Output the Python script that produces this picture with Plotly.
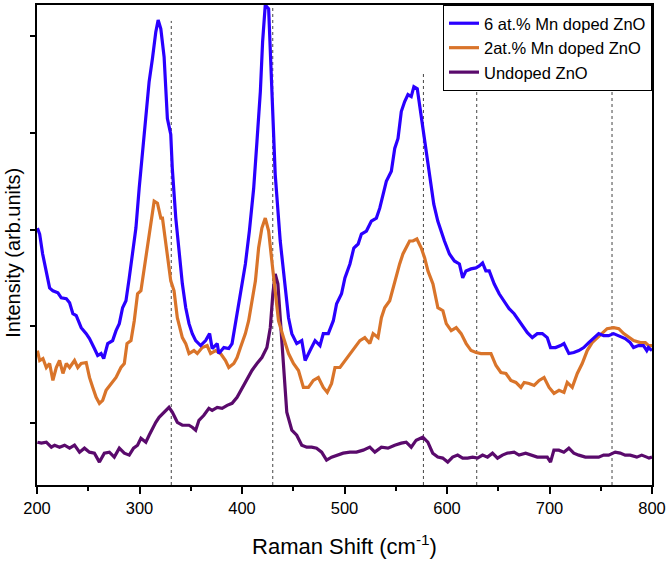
import plotly.graph_objects as go

# ---- data (Raman shift in cm^-1, intensity in arbitrary units) ----
x_6 = [200.4,202.6,205.5,209.1,212.3,215.5,220.4,223.7,228.6,231.8,235.0,238.3,243.1,248.0,251.2,256.0,259.2,262.5,265.1,269.0,
       273.8,277.1,280.3,283.5,286.8,290.0,293.2,296.5,299.7,302.9,306.2,309.4,312.6,315.9,318.2,320.8,324.0,327.2,330.5,332.0,
       335.4,338.6,341.8,345.1,348.3,351.5,354.8,359.6,364.5,368.4,370.9,375.8,377.4,382.3,387.1,390.3,394.2,398.5,403.3,407.2,
       411.4,414.6,417.9,420.1,422.7,426.0,429.1,432.4,437.3,442.1,445.4,448.6,453.4,458.3,461.6,466.4,471.3,476.1,479.3,484.2,
       489.1,492.3,497.1,500.4,505.3,509.1,513.3,516.5,521.4,526.2,531.1,534.4,537.6,540.8,545.7,549.0,552.2,555.4,558.7,561.9,
       565.1,567.7,571.0,574.2,577.4,580.6,583.9,587.1,591.0,594.2,597.5,602.4,607.2,612.1,615.3,618.5,623.4,628.2,631.5,634.7,
       637.9,641.2,646.0,650.9,655.7,660.6,665.5,671.9,678.4,683.2,688.1,693.0,697.8,701.0,705.9,710.8,714.1,718.9,723.7,728.6,
       733.4,738.3,743.1,748.0,752.8,757.7,762.5,767.4,773.8,778.7,782.0,786.8,791.7,794.9,796.5,800.0]
y_6 = [258,252,232,215,198,195,193,188,187,183,172,170,158,152,147,137,130,132,127,142,
       145,155,162,178,185,208,232,258,298,335,372,405,428,455,467,458,430,368,352,318,
       268,235,202,178,162,152,145,140,145,152,137,142,132,138,137,142,165,192,222,255,
       298,345,395,445,482,478,402,312,245,198,168,152,142,145,125,135,145,140,152,152,
       165,182,192,208,222,238,242,252,255,265,268,278,292,305,315,338,348,375,385,392,
       390,400,398,375,352,328,308,282,265,255,245,232,225,222,208,215,217,218,220,223,
       215,215,202,192,185,177,172,162,153,148,152,152,148,138,138,140,142,132,133,135,
       138,143,147,152,150,150,152,150,147,143,138,140,140,135,138,135]

x_2 = [200.4,202.6,205.8,209.1,212.3,215.5,218.8,222.0,225.3,228.6,231.8,236.6,239.8,243.1,248.0,251.2,254.4,257.7,260.9,264.1,
       267.4,272.2,277.1,281.9,285.2,287.8,291.7,294.9,298.1,301.4,304.6,307.8,311.1,314.3,317.5,320.8,322.4,327.2,330.5,333.7,
       336.9,341.8,345.1,348.3,353.1,356.4,361.2,366.0,369.4,374.2,379.1,383.9,387.1,392.0,395.2,398.5,403.3,406.5,409.7,413.1,
       416.2,419.4,422.7,426.0,429.1,432.4,435.6,440.5,445.4,450.2,455.1,459.9,464.8,469.6,474.5,479.3,483.2,487.4,490.7,495.6,
       500.4,505.3,510.1,515.0,519.8,524.7,527.9,532.7,536.0,539.2,544.1,547.3,550.5,553.8,557.0,560.2,563.5,566.7,570.6,574.9,
       578.2,581.4,586.3,591.1,596.0,599.3,604.1,609.0,613.8,618.7,623.5,628.4,633.2,638.1,642.9,647.8,652.6,657.5,662.3,667.2,
       672.1,675.3,680.1,685.0,689.9,694.7,699.6,704.4,709.3,714.1,717.3,722.2,727.1,731.9,736.8,741.6,746.5,751.3,756.2,762.7,
       767.6,772.4,777.3,782.1,788.6,793.5,796.7,800.0]
y_2 = [135,125,127,118,122,105,118,125,112,122,118,125,118,122,123,108,98,88,82,85,
       95,102,108,118,122,142,145,165,192,195,218,242,265,285,283,268,268,232,205,195,
       168,148,142,132,135,132,138,140,132,135,132,125,118,122,128,138,152,165,185,205,
       238,258,268,255,225,195,165,148,132,122,115,98,98,105,108,98,93,102,118,118,
       125,132,138,145,148,142,152,148,168,178,185,198,208,222,232,238,245,245,247,238,
       228,215,202,178,175,162,155,158,152,142,135,133,132,132,132,120,113,112,105,103,
       98,103,102,100,105,108,98,92,95,93,103,98,112,122,135,143,148,153,157,158,
       157,152,148,145,143,143,140,140]

x_0 = [200.4,204.3,209.1,214.0,217.2,222.0,226.9,231.8,236.6,241.5,246.3,251.2,256.0,260.9,265.7,270.6,275.4,280.3,285.2,290.0,
       294.2,298.1,301.4,306.2,309.4,312.6,315.9,319.1,324.0,328.8,332.1,336.9,341.8,348.3,351.5,354.8,358.0,362.8,367.7,370.9,
       375.8,380.6,385.5,390.3,395.2,400.0,404.9,409.7,414.6,419.4,424.3,427.6,430.1,432.4,435.0,437.3,440.5,443.7,448.6,453.4,
       458.3,463.1,468.0,472.8,477.7,482.5,487.4,492.3,498.7,505.3,511.7,518.2,524.7,529.6,536.0,542.4,549.0,555.4,560.2,565.1,
       569.9,576.4,581.3,586.1,591.0,595.8,600.7,605.5,610.4,615.3,620.1,625.0,629.8,634.7,639.5,644.4,649.3,654.1,659.0,665.5,
       670.3,676.7,683.2,688.1,692.9,697.8,701.0,704.3,709.1,714.0,718.9,723.7,728.6,735.0,741.5,748.0,752.8,757.7,764.1,769.0,
       773.8,778.7,785.2,790.0,794.9,797.1,800.0]
y_0 = [43,42,43,38,40,38,40,37,40,33,37,33,32,23,32,33,28,37,32,30,
       37,40,47,43,50,57,63,68,73,78,73,63,60,60,58,55,65,70,77,75,
       78,77,80,82,88,97,105,115,122,128,138,158,192,212,202,165,115,73,55,50,
       40,38,38,37,33,25,28,30,32,33,33,35,38,33,38,37,40,42,43,38,
       45,48,43,32,28,27,23,28,30,27,27,28,27,30,28,32,27,30,32,33,
       30,32,30,28,28,28,23,35,35,33,37,32,30,28,28,28,30,30,33,32,
       30,30,28,30,28,27,28]

ref_lines = [331, 430, 577, 629, 761]
ref_tops = [466, 482, 413, 413, 413]

series_names = ["6 at.% Mn doped ZnO", "2at.% Mn doped ZnO", "Undoped ZnO"]
series_colors = ["#2a00ff", "#d9742a", "#5a0a6c"]

y_tick0 = 62
y_dtick = 97.25
y_range = [0, 482]
x_range = [200, 800]

fig = go.Figure()
traces = [(x_0, y_0, 2), (x_2, y_2, 1), (x_6, y_6, 0)]
for xs, ys, i in traces:
    fig.add_trace(go.Scatter(x=xs, y=ys, mode="lines", name=series_names[i],
                             line=dict(color=series_colors[i], width=3.2),
                             legendrank=i + 1))

for xv, top in zip(ref_lines, ref_tops):
    fig.add_shape(type="line", x0=xv, x1=xv, y0=y_range[0], y1=top, xref="x", yref="y",
                  line=dict(color="#444444", width=1, dash="dot"), layer="below")

font_family = "Liberation Sans, Arial, sans-serif"
fig.update_layout(
    width=669, height=563,
    margin=dict(l=37, r=15, t=3, b=78),
    paper_bgcolor="white", plot_bgcolor="white",
    font=dict(family=font_family, color="black"),
    showlegend=True,
    legend=dict(x=1, y=1, xanchor="right", yanchor="top",
                bgcolor="white", bordercolor="black", borderwidth=1,
                font=dict(size=16.5, family=font_family, color="black"),
                tracegroupgap=0, itemwidth=30),
    xaxis=dict(range=x_range, dtick=100, tick0=200, showgrid=False, zeroline=False,
               showline=True, linecolor="black", linewidth=1.6, mirror=True,
               ticks="outside", ticklen=7, tickwidth=1.5, tickcolor="black",
               tickfont=dict(size=16.5, family=font_family, color="black"),
               minor=dict(dtick=50, ticks="outside", ticklen=4, tickwidth=1.5, tickcolor="black"),
               title=dict(text="Raman Shift (cm<sup>-1</sup>)", font=dict(size=22, family=font_family),
                          standoff=23)),
    yaxis=dict(range=y_range, tick0=y_tick0, dtick=y_dtick, showgrid=False, zeroline=False,
               showline=True, linecolor="black", linewidth=1.6, mirror=True,
               ticks="outside", ticklen=5, tickwidth=1.5, tickcolor="black",
               showticklabels=False),
    annotations=[dict(text="Intensity (arb.units)", xref="paper", yref="paper",
                      x=-0.038, y=0.483, xanchor="center", yanchor="middle",
                      textangle=-90, showarrow=False,
                      font=dict(size=20, family=font_family, color="black"))],
)

fig.write_html("out.html", config={"displayModeBar": False},
               post_script="document.body.style.margin='0';document.body.style.padding='0';")
